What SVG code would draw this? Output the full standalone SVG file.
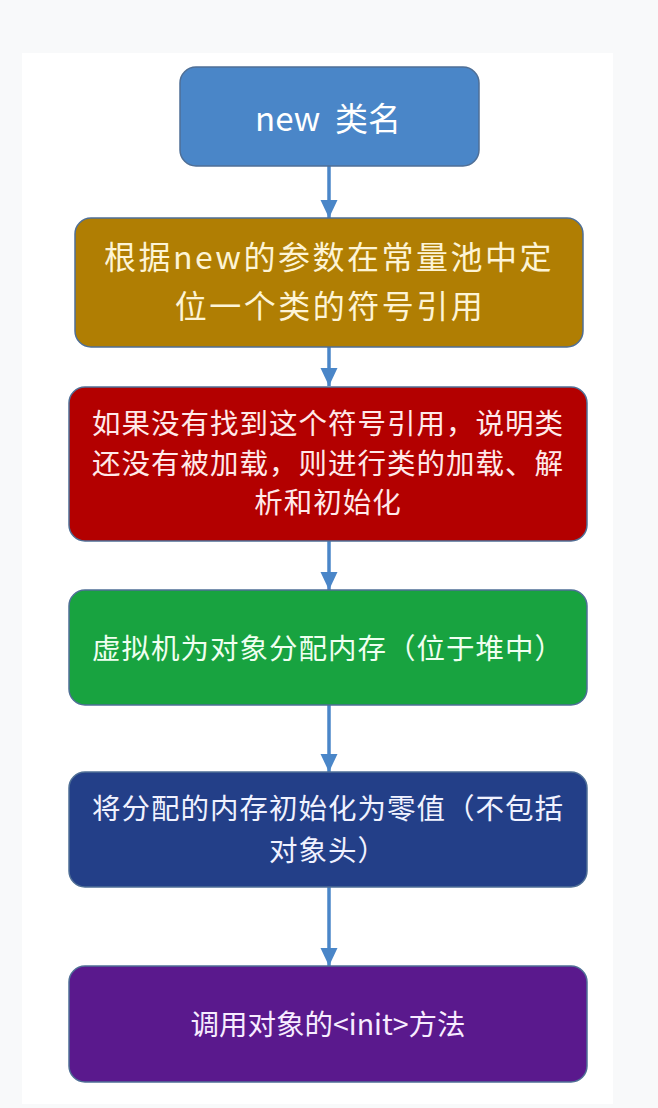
<svg xmlns="http://www.w3.org/2000/svg" width="658" height="1108" viewBox="0 0 658 1108">
<style>
.node rect{stroke:#4f6f96;stroke-width:1.5}
.node text{font-family:"Noto Sans CJK SC","Microsoft YaHei",sans-serif;text-anchor:middle;dominant-baseline:central;fill:#ffffff}
.node text.m{font-size:28.5px;letter-spacing:1px}
.node text.b{font-size:32px;letter-spacing:2.5px;fill:#fdf4d6}
.conn line{stroke:#4a86c8;stroke-width:3.5}
</style>
<defs>
<marker id="ah" markerUnits="userSpaceOnUse" markerWidth="18" markerHeight="18" refX="18" refY="8.5" orient="auto">
<path d="M0,0 L18,8.5 L0,17 z" fill="#4a86c8"/>
</marker>
</defs>
<rect x="0" y="0" width="658" height="1108" fill="#f8f9fa"/>
<rect x="22" y="53" width="591" height="1051" fill="#ffffff"/>
<g class="conn">
<line x1="329" y1="166" x2="329" y2="218" marker-end="url(#ah)"/>
<line x1="329" y1="347" x2="329" y2="386" marker-end="url(#ah)"/>
<line x1="329" y1="541" x2="329" y2="590" marker-end="url(#ah)"/>
<line x1="329" y1="705" x2="329" y2="772" marker-end="url(#ah)"/>
<line x1="329" y1="887" x2="329" y2="966" marker-end="url(#ah)"/>
</g>
<g id="n1" class="node">
<rect x="180" y="67" width="299" height="99" rx="16" fill="#4a86c8"/>
<text x="328" y="117" font-size="33" xml:space="preserve">new  类名</text>
</g>
<g id="n2" class="node">
<rect x="75" y="218" width="508" height="129" rx="16" fill="#b07e03"/>
<text class="b" x="329" y="255">根据new的参数在常量池中定</text>
<text class="b" x="330" y="304">位一个类的符号引用</text>
</g>
<g id="n3" class="node">
<rect x="69" y="387" width="518" height="154" rx="16" fill="#b30000"/>
<text class="m" x="328" y="421" style="fill:#ffe9e9">如果没有找到这个符号引用，说明类</text>
<text class="m" x="328" y="461" style="fill:#ffe9e9">还没有被加载，则进行类的加载、解</text>
<text class="m" x="328" y="500" style="fill:#ffe9e9">析和初始化</text>
</g>
<g id="n4" class="node">
<rect x="69" y="590" width="518" height="115" rx="16" fill="#18a340"/>
<text class="m" x="328" y="646" style="fill:#effff0">虚拟机为对象分配内存（位于堆中）</text>
</g>
<g id="n5" class="node">
<rect x="69" y="772" width="518" height="115" rx="16" fill="#233f88"/>
<text class="m" x="328" y="806" style="fill:#f0f2ff">将分配的内存初始化为零值（不包括</text>
<text class="m" x="328" y="848" style="fill:#f0f2ff">对象头）</text>
</g>
<g id="n6" class="node">
<rect x="69" y="966" width="518" height="116" rx="16" fill="#5a198d"/>
<text x="328" y="1022" font-size="28.5" style="fill:#f7ecff">调用对象的&lt;init&gt;方法</text>
</g>
</svg>
